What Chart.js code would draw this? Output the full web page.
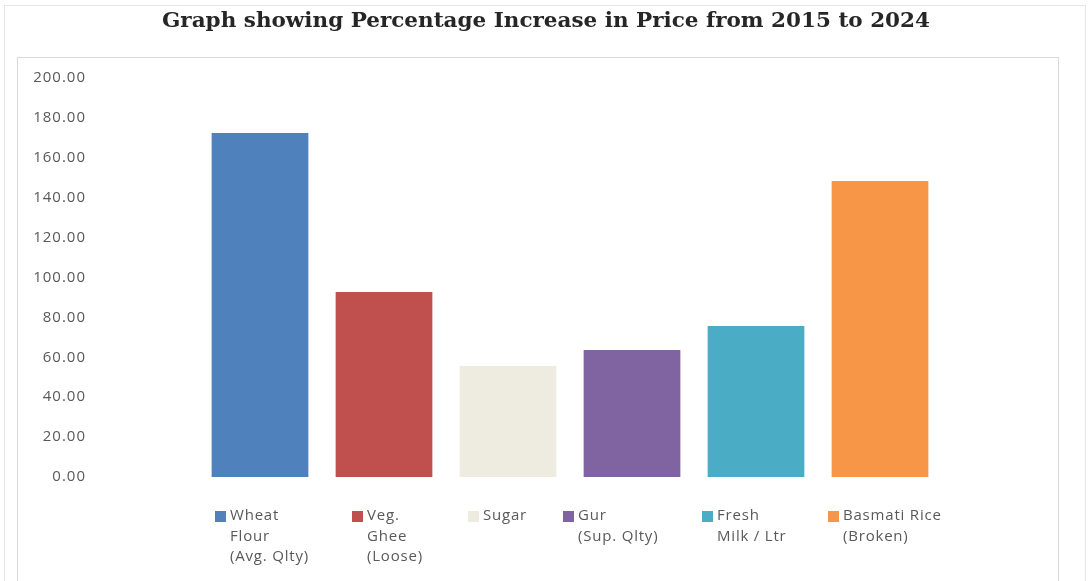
<!DOCTYPE html>
<html>
<head>
<meta charset="utf-8">
<script src="https://cdn.jsdelivr.net/npm/chart.js@4.4.1/dist/chart.umd.min.js"></script>
<style>
  html, body { margin: 0; padding: 0; background: #fff; }
  canvas { display: block; }
</style>
</head>
<body>
<canvas id="chart" width="1088" height="581"></canvas>
<script>
const title = 'Graph showing Percentage Increase in Price from 2015 to 2024';
const categories = [
  ['Wheat', 'Flour', '(Avg. Qlty)'],
  ['Veg.', 'Ghee', '(Loose)'],
  ['Sugar'],
  ['Gur', '(Sup. Qlty)'],
  ['Fresh', 'Milk / Ltr'],
  ['Basmati Rice', '(Broken)'],
];
const increase = [172.4, 92.7, 55.6, 63.7, 75.7, 148.4];
const barColors = ['#4F81BD', '#C0504D', '#EEECE1', '#8064A2', '#4BACC6', '#F79646'];
const yTicks = [0, 20, 40, 60, 80, 100, 120, 140, 160, 180, 200];

// legend layout: left edge of each legend swatch
const legendX = [215, 352, 468, 563, 702, 828];
const textGray = '#595959';

const framePlugin = {
  id: 'frame',
  beforeDraw: (chart) => {
    const ctx = chart.ctx;
    ctx.save();
    ctx.fillStyle = '#fff';
    ctx.fillRect(0, 0, chart.width, chart.height);
    ctx.lineWidth = 1;
    ctx.strokeStyle = '#e6e6e6';
    ctx.strokeRect(4.5, 5.5, chart.width - 7, chart.height);
    ctx.strokeStyle = '#d9d9d9';
    ctx.strokeRect(17.5, 57.5, 1041, chart.height);

    // title, stretched to the width it has in the reference
    ctx.font = 'bold 20px "DejaVu Serif"';
    ctx.fillStyle = '#262626';
    ctx.textBaseline = 'alphabetic';
    ctx.textAlign = 'left';
    const w = ctx.measureText(title).width;
    ctx.translate(162, 27);
    ctx.scale(768 / w, 1);
    ctx.fillText(title, 0, 0);
    ctx.restore();
    ctx.letterSpacing = '1px';
  },
};

const legendPlugin = {
  id: 'legendBelow',
  afterDraw: (chart) => {
    const ctx = chart.ctx;
    ctx.save();
    ctx.font = '15px "Open Sans"';
    ctx.letterSpacing = '0.8px';
    ctx.textBaseline = 'middle';
    ctx.textAlign = 'left';
    categories.forEach((lines, i) => {
      const x = legendX[i];
      ctx.fillStyle = barColors[i];
      ctx.fillRect(x, 511, 11, 11);
      ctx.fillStyle = textGray;
      lines.forEach((line, j) => {
        ctx.fillText(line, x + 15, 516 + j * 20.5);
      });
    });
    ctx.restore();
  },
};

new Chart(document.getElementById('chart'), {
  type: 'bar',
  data: {
    labels: categories.map((c) => c.join(' ')),
    datasets: [
      {
        data: increase,
        backgroundColor: barColors,
        categoryPercentage: 1,
        barPercentage: 0.78,
      },
    ],
  },
  options: {
    responsive: false,
    animation: false,
    layout: { padding: { left: 0, right: 146, top: 78, bottom: 104 } },
    plugins: {
      legend: { display: false },
      tooltip: { enabled: false },
      title: { display: false },
    },
    scales: {
      x: { display: false },
      y: {
        min: 0,
        max: 200,
        afterBuildTicks: (scale) => {
          scale.ticks = yTicks.map((v) => ({ value: v }));
        },
        afterFit: (scale) => {
          scale.width = 198;
          // the big label gap should not eat vertical space
          scale.paddingTop = 10;
          scale.paddingBottom = 10;
        },
        border: { display: false },
        grid: { display: false, drawTicks: false },
        ticks: {
          padding: 112,
          color: textGray,
          font: { family: '"Open Sans"', size: 15 },
          callback: (value) => Number(value).toFixed(2),
        },
      },
    },
  },
  plugins: [framePlugin, legendPlugin],
});
</script>
</body>
</html>
